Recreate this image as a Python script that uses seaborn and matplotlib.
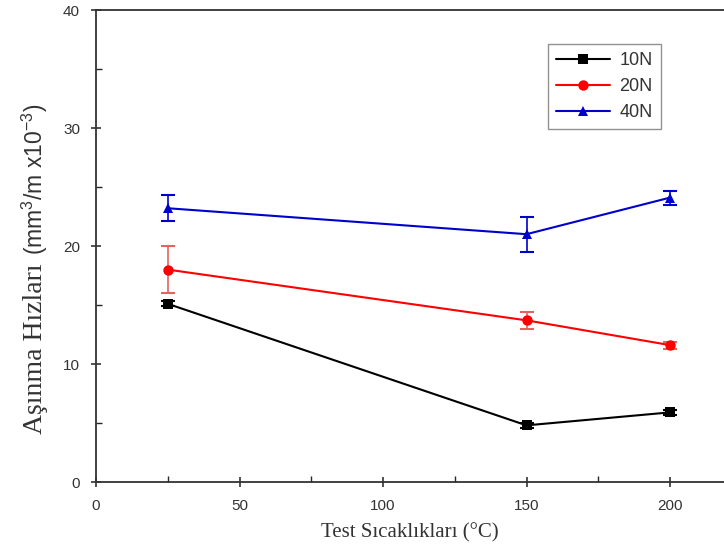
import numpy as np
import pandas as pd
import matplotlib
matplotlib.use("Agg")
import matplotlib.pyplot as plt
import seaborn as sns
from matplotlib.ticker import MultipleLocator

temps = [25, 150, 200]
loads = ["10N", "20N", "40N"]
rate_10N = [15.1, 4.8, 5.9]
rate_20N = [18.0, 13.7, 11.6]
rate_40N = [23.2, 21.0, 24.1]
err_10N = [0.2, 0.2, 0.2]
err_20N = [2.0, 0.7, 0.3]
err_40N = [1.1, 1.5, 0.6]
x_ticks = [0, 50, 100, 150, 200]
y_ticks = [0, 10, 20, 30, 40]

sns.set_style("ticks")
plt.rcParams["font.family"] = ["Liberation Sans", "DejaVu Sans"]
plt.rcParams["mathtext.fontset"] = "custom"
plt.rcParams["mathtext.rm"] = "Liberation Sans"
plt.rcParams["mathtext.it"] = "Liberation Sans:italic"

df = pd.DataFrame({
    "temp": temps * 3,
    "rate": rate_10N + rate_20N + rate_40N,
    "load": [loads[0]] * 3 + [loads[1]] * 3 + [loads[2]] * 3,
})
errs = {"10N": err_10N, "20N": err_20N, "40N": err_40N}
vals = {"10N": rate_10N, "20N": rate_20N, "40N": rate_40N}
palette = {"10N": "#000000", "20N": "#ff0000", "40N": "#0000cc"}
ecolors = {"10N": "#000000", "20N": "#e86060", "40N": "#0000cc"}
markers = {"10N": "s", "20N": "o", "40N": "^"}

fig = plt.figure(figsize=(7.24, 5.56), dpi=100)
ax = fig.add_axes([96 / 724, 1 - 482 / 556, (724 - 96) / 724, (482 - 10) / 556])

for ld in loads:
    ax.errorbar(temps, vals[ld], yerr=errs[ld], fmt="none", ecolor=ecolors[ld],
                elinewidth=1.2, capsize=5, capthick=1.5, zorder=2)

sns.lineplot(data=df, x="temp", y="rate", hue="load", style="load",
             palette=palette, markers=markers, dashes=False, markersize=7.5,
             markeredgewidth=0, linewidth=1.5, ax=ax, zorder=3)

ax.set_xlim(0, (724 - 96) / 2.87)
ax.set_ylim(0, 40)
ax.set_xticks(x_ticks)
ax.set_yticks(y_ticks)
ax.xaxis.set_minor_locator(MultipleLocator(25))
ax.yaxis.set_minor_locator(MultipleLocator(5))
ax.tick_params(axis="both", which="major", direction="inout", length=7, width=1.2,
               labelsize=11, labelcolor="#333333", colors="#333333")
ax.tick_params(axis="x", which="major", pad=9)
ax.tick_params(axis="y", which="major", pad=8)
ax.tick_params(axis="both", which="minor", direction="in", length=4, width=1)
for s in ["left", "bottom", "top"]:
    ax.spines[s].set_linewidth(1.3)
    ax.spines[s].set_color("#333333")
ax.spines["right"].set_visible(False)

ax.set_xlabel("Test Sıcaklıkları (°C)", family=["Liberation Serif", "DejaVu Serif"],
              fontsize=15, color="#333333", labelpad=7)
ax.set_ylabel("")
fig.text(42 / 724, (556 - 434) / 556, "Aşınma Hızları", rotation=90, rotation_mode="anchor",
         ha="left", va="baseline", family=["Liberation Serif", "DejaVu Serif"],
         fontsize=20, color="#333333")
fig.text(43 / 724, (556 - 255) / 556, r"(mm$^3$/m x10$^{-3}$)", rotation=90,
         rotation_mode="anchor", ha="left", va="baseline", fontsize=16.5, color="#333333")

handles, labels = ax.get_legend_handles_labels()
leg = ax.legend(handles, labels, loc="upper left",
                bbox_to_anchor=((548 - 96) / 628, 1 - (44 - 10) / 472), borderaxespad=0,
                frameon=True, fancybox=False, edgecolor="#777777", fontsize=13,
                handlelength=3.0, borderpad=0.45, labelspacing=0.5, handletextpad=0.5)
leg.get_frame().set_linewidth(1.0)
for t in leg.get_texts():
    t.set_color("#333333")

fig.savefig("out.png", dpi=100)
